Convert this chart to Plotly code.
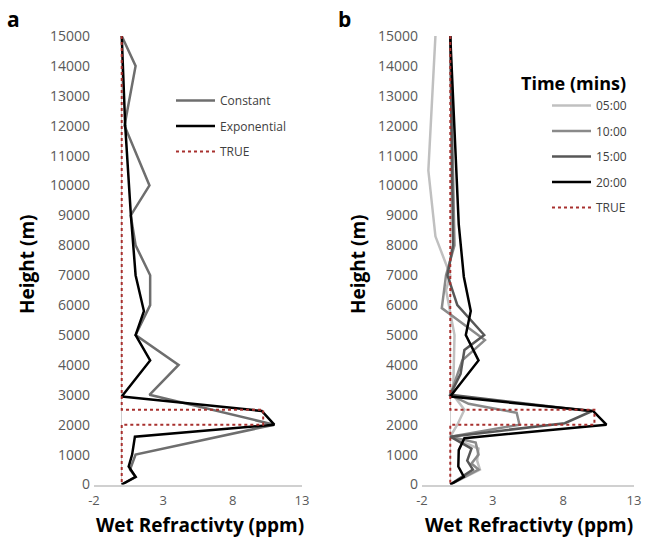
import plotly.graph_objects as go

# ---------------- Panel a data ----------------
const_h = [15000, 14000, 12000, 10000, 9000, 8000, 7000, 6000, 5000, 4000, 3000, 2000, 1000, 500, 250, 0]
const_v = [0, 1.0, 0.2, 2.0, 0.65, 1.0, 2.05, 2.05, 1.0, 4.1, 2.0, 11.0, 1.0, 0.6, 1.0, 0]

exp_h = [15000, 12000, 9000, 7000, 5800, 5000, 4150, 2940, 2460, 2000, 1600, 1000, 600, 260, 0]
exp_v = [0, 0.25, 0.66, 1.0, 1.6, 1.0, 2.05, 0, 10.1, 11.0, 0.95, 0.75, 0.5, 1.0, 0]

true_h = [15000, 2500, 2500, 2000, 2000, 0]
true_v = [0, 0, 10.2, 10.2, 0, 0]

# ---------------- Panel b data ----------------
t05_h = [15000, 10500, 8300, 7000, 6500, 5000, 3000, 2500, 2000, 1600, 1200, 800, 500, 0]
t05_v = [-1.05, -1.55, -1.05, 0, -0.3, 0.3, 0.2, 1.0, 0.5, 0, 2.0, 1.9, 2.1, 0]

t10_h = [15000, 8000, 7000, 5900, 4830, 4150, 3000, 2700, 2400, 2000, 1600, 1400, 1000, 700, 500, 0]
t10_v = [0, 0.3, -0.3, -0.6, 2.45, 0.85, 0, 1.3, 4.7, 4.9, 0, 1.8, 2.0, 1.5, 2.0, 0]

t15_h = [15000, 8000, 7000, 6000, 5000, 4500, 3700, 3000, 2450, 2050, 1600, 1200, 800, 500, 0]
t15_v = [0, 0.2, -0.2, 0.5, 2.4, 1.0, 0.73, 0, 10.0, 8.1, 0, 1.5, 1.2, 1.6, 0]

t20_h = [15000, 8700, 6950, 5800, 5000, 4150, 2940, 2460, 2000, 1550, 1150, 600, 260, 0]
t20_v = [0, 0.6, 0.96, 1.45, 1.1, 2.0, 0, 10.1, 11.05, 1.0, 0.6, 0.57, 0.96, 0]

x_ticks = [-2, 3, 8, 13]
x_ticktext = ["-2", "3", "8", "13"]
y_ticks = list(range(0, 15001, 1000))
y_ticktext = [str(v) for v in y_ticks]

TRUE_COLOR = "#a8302e"
FONT = "Open Sans"

fig = go.Figure()

def add(x, y, name, color, width, dash, xa, ya, legend):
    fig.add_trace(go.Scatter(
        x=x, y=y, mode="lines", name=name,
        line=dict(color=color, width=width, dash=dash),
        xaxis=xa, yaxis=ya, legend=legend, legendgroup=legend + name,
    ))

add(const_v, const_h, "Constant", "#6e6e6e", 2.5, "solid", "x", "y", "legend")
add(exp_v, exp_h, "Exponential", "#000000", 2.5, "solid", "x", "y", "legend")
add(true_v, true_h, "TRUE", TRUE_COLOR, 2, "dot", "x", "y", "legend")

add(t05_v, t05_h, "05:00", "#c0c0c0", 2.5, "solid", "x2", "y2", "legend2")
add(t10_v, t10_h, "10:00", "#8a8a8a", 2.5, "solid", "x2", "y2", "legend2")
add(t15_v, t15_h, "15:00", "#575757", 2.5, "solid", "x2", "y2", "legend2")
add(t20_v, t20_h, "20:00", "#000000", 2.5, "solid", "x2", "y2", "legend2")
add(true_v, true_h, "TRUE", TRUE_COLOR, 2, "dot", "x2", "y2", "legend2")

xcommon = dict(range=[-2, 13], tickvals=x_ticks, ticktext=x_ticktext, showgrid=False,
               zeroline=True, zerolinecolor="#d0d0d0", zerolinewidth=1, showline=True,
               linecolor="#d0d0d0", linewidth=1.5, ticks="", ticklabelstandoff=3,
               ticklabeloverflow="allow",
               tickfont=dict(family=FONT, size=13, color="#595959"),
               fixedrange=True, automargin=False)
ycommon = dict(range=[0, 15000], tickvals=y_ticks, ticktext=y_ticktext, showgrid=False,
               zeroline=False, showline=False, ticks="",
               tickfont=dict(family=FONT, size=14, color="#595959"),
               fixedrange=True, automargin=False)

xa_dom = [94 / 649, 302 / 649]
xb_dom = [422 / 649, 634 / 649]
ydom = [1 - 484.5 / 541, 1 - 36 / 541]
fig.update_layout(
    width=649, height=541,
    margin=dict(l=0, r=0, t=0, b=0, autoexpand=False),
    paper_bgcolor="white", plot_bgcolor="white",
    xaxis=dict(domain=xa_dom, anchor="y", **xcommon),
    yaxis=dict(domain=ydom, anchor="free", position=xa_dom[0] - 4 / 649, **ycommon),
    xaxis2=dict(domain=xb_dom, anchor="y2", **xcommon),
    yaxis2=dict(domain=ydom, anchor="free", position=xb_dom[0] - 4 / 649, **ycommon),
    legend=dict(x=171 / 649, y=1 - 86 / 541, xanchor="left", yanchor="top",
                bgcolor="rgba(0,0,0,0)", font=dict(family=FONT, size=12, color="#404040"),
                traceorder="grouped", tracegroupgap=6.5, itemwidth=39),
    legend2=dict(x=547 / 649, y=1 - 91 / 541, xanchor="left", yanchor="top",
                 bgcolor="rgba(0,0,0,0)", font=dict(family=FONT, size=12, color="#404040"),
                 traceorder="grouped", tracegroupgap=6.5, itemwidth=39),
    showlegend=True,
)

ann = [
    dict(text="<b>a</b>", x=13 / 649, y=1 - 19 / 541, size=21),
    dict(text="<b>b</b>", x=344 / 649, y=1 - 19 / 541, size=21),
    dict(text="<b>Wet Refractivty (ppm)</b>", x=200 / 649, y=1 - 525 / 541, size=19),
    dict(text="<b>Wet Refractivty (ppm)</b>", x=529 / 649, y=1 - 525 / 541, size=19),
    dict(text="<b>Time (mins)</b>", x=573 / 649, y=1 - 83 / 541, size=18),
]
for a in ann:
    fig.add_annotation(text=a["text"], x=a["x"], y=a["y"], xref="paper", yref="paper",
                       showarrow=False, xanchor="center", yanchor="middle",
                       font=dict(family=FONT, size=a["size"], color="#000000"))
for xp in (12 / 649, 358 / 649):
    fig.add_annotation(text="<b>Height (m)</b>", x=xp, y=1 - 264 / 541, xref="paper",
                       yref="paper", showarrow=False, textangle=-90,
                       font=dict(family=FONT, size=19, color="#000000"))

fig.write_html("out.html", config={"displayModeBar": False},
               post_script="document.body.style.margin='0';")
